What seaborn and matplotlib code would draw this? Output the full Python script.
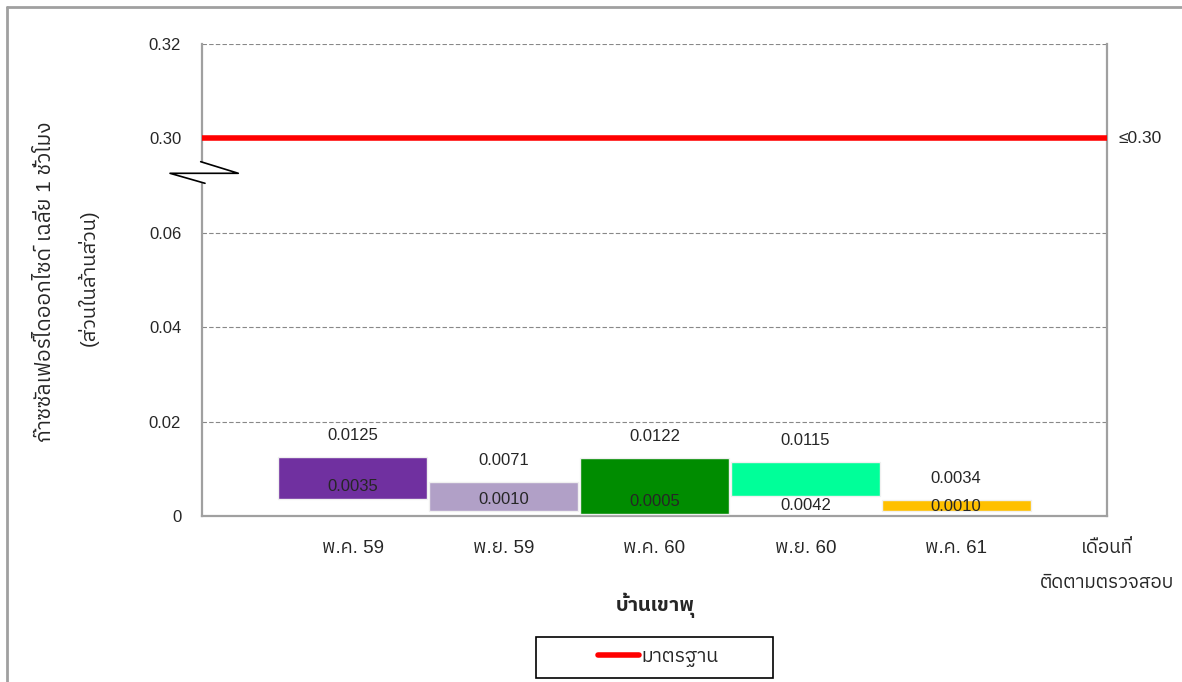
import numpy as np
import matplotlib
matplotlib.use('Agg')
import matplotlib.pyplot as plt
import seaborn as sns
from matplotlib import font_manager as fm
from matplotlib.ft2font import FT2Font
from matplotlib.lines import Line2D
from matplotlib.patches import Rectangle, Polygon
import matplotlib.transforms as mtransforms

# data
months = ['พ.ค. 59', 'พ.ย. 59', 'พ.ค. 60', 'พ.ย. 60', 'พ.ค. 61']
so2_max = [0.0125, 0.0071, 0.0122, 0.0115, 0.0034]
so2_min = [0.0035, 0.0010, 0.0005, 0.0042, 0.0010]
bar_colors = ['#7030A0', '#B1A0C7', '#008C00', '#00FF99', '#FFC000']
standard = 0.30
yticks = [0, 0.02, 0.04, 0.06, 0.30, 0.32]
ytick_labels = ['0', '0.02', '0.04', '0.06', '0.30', '0.32']
end_label = 'เดือนที่\nติดตามตรวจสอบ'
ylabel_1 = 'ก๊าซซัลเฟอร์ไดออกไซด์ เฉลี่ย 1 ชั่วโมง'
ylabel_2 = '(ส่วนในล้านส่วน)'
station = 'บ้านเขาพุ'
legend_label = 'มาตรฐาน'
# nudge of the min labels (points), as placed in the original
min_label_dy = [9.5, 8.5, 8.5, -6.5, 3.5]

sns.set_style('white')

# find a font that has Thai glyphs
thai_fonts = []
for f in fm.fontManager.ttflist:
    try:
        if 0x0E01 in FT2Font(f.fname).get_charmap():
            thai_fonts.append(f.name)
    except Exception:
        pass
thai_fonts = sorted(set(thai_fonts), key=lambda n: (('Sans' not in n), ('Thai' not in n), n))
plt.rcParams['font.family'] = ['Liberation Sans'] + thai_fonts[:1] + ['DejaVu Sans']
plt.rcParams['font.size'] = 12


# broken y axis: 0-0.06 linear, then jump to 0.30-0.32
def fwd(y):
    y = np.asarray(y, dtype=float)
    return np.where(y <= 0.06, y / 0.02,
                    np.where(y <= 0.30, 3 + (y - 0.06) / 0.24, 4 + (y - 0.30) / 0.02))


def inv(t):
    t = np.asarray(t, dtype=float)
    return np.where(t <= 3, t * 0.02,
                    np.where(t <= 4, 0.06 + (t - 3) * 0.24, 0.30 + (t - 4) * 0.02))


W, H = 1182, 682
fig = plt.figure(figsize=(W / 100, H / 100), dpi=100)
ax = fig.add_axes([202 / W, 1 - 516 / H, 905 / W, 472 / H])

heights = [hi - lo for hi, lo in zip(so2_max, so2_min)]
sns.barplot(x=months, y=heights, bottom=so2_min, width=0.99, errorbar=None,
            color='gray', edgecolor='#F0F0F0', linewidth=1, ax=ax, zorder=3)
for p, c in zip(ax.patches, bar_colors):
    p.set_facecolor(c)

ax.axhline(standard, color='#FF0000', lw=4, zorder=4, label=legend_label)

ax.set_yscale('function', functions=(fwd, inv))
ax.set_ylim(0, 0.32)
ax.set_yticks(yticks)
ax.set_yticklabels(ytick_labels)
ax.set_xlim(-1, 5)
ax.set_xticks(range(len(months) + 1))
ax.set_xticklabels(months + [end_label], linespacing=2.4)
ax.set_xlabel('')
ax.set_ylabel('')

ax.yaxis.grid(True, color='#888888', linestyle=(0, (4, 2)), lw=0.8)
ax.xaxis.grid(False)
ax.set_axisbelow(True)
for s in ['left', 'bottom', 'right']:
    ax.spines[s].set_color('#A0A0A0')
    ax.spines[s].set_linewidth(1.6)
ax.spines['top'].set_visible(False)
ax.tick_params(axis='y', length=6, width=1.2, color='#A0A0A0', pad=9, labelsize=12)
ax.tick_params(axis='x', length=6, width=1.2, color='#A0A0A0', pad=11, labelsize=13.5)

# value labels
for i, (hi, lo) in enumerate(zip(so2_max, so2_min)):
    ax.annotate(f'{hi:.4f}', xy=(i, hi), xytext=(0, 15.5), textcoords='offset points',
                ha='center', va='center', fontsize=12, zorder=5)
    ax.annotate(f'{lo:.4f}', xy=(i, lo), xytext=(0, min_label_dy[i]), textcoords='offset points',
                ha='center', va='center', fontsize=12, zorder=5)

# standard label on the right
trans = mtransforms.blended_transform_factory(ax.transAxes, ax.transData)
ax.text(1.013, standard, '≤0.30', transform=trans, ha='left', va='center', fontsize=12.5)

# axis break symbol
def axfrac(px, py):
    return ((px - 202) / 905, (516 - py) / 472)

brk = [axfrac(200.7, 161.7), axfrac(238.3, 173.3), axfrac(170, 173.3), axfrac(205, 183.3)]
ax.add_patch(Polygon([brk[0], brk[1], brk[3], brk[2]], closed=True, facecolor='white',
                     edgecolor='none', transform=ax.transAxes, clip_on=False, zorder=6))
ax.add_line(Line2D([p[0] for p in brk], [p[1] for p in brk], color='black', lw=1.2,
                   transform=ax.transAxes, clip_on=False, zorder=7))

# axis titles
fig.text(46 / W, 1 - 282 / H, ylabel_1, rotation=90, ha='center', va='center', fontsize=15)
fig.text(88 / W, 1 - 278 / H, ylabel_2, rotation=90, ha='center', va='center', fontsize=14.5)
fig.text(655 / W, 1 - 605 / H, station, ha='center', va='center', fontsize=14.5, fontweight='bold')

# legend with its box
fig.add_artist(Rectangle((536 / W, 1 - 678 / H), 237 / W, 41 / H, transform=fig.transFigure,
                         facecolor='white', edgecolor='black', lw=1.2))
handles, labels = ax.get_legend_handles_labels()
fig.legend(handles, labels, loc='center', bbox_to_anchor=(658 / W, 1 - 657.5 / H),
           frameon=False, handlelength=2.15, handletextpad=0.1, fontsize=14)

# outer chart border (top and left visible)
fig.add_artist(Line2D([7 / W, 1], [1 - 7 / H, 1 - 7 / H], color='#A0A0A0', lw=2))
fig.add_artist(Line2D([7 / W, 7 / W], [0, 1 - 7 / H], color='#A0A0A0', lw=2))

fig.savefig('out.png', dpi=100)
